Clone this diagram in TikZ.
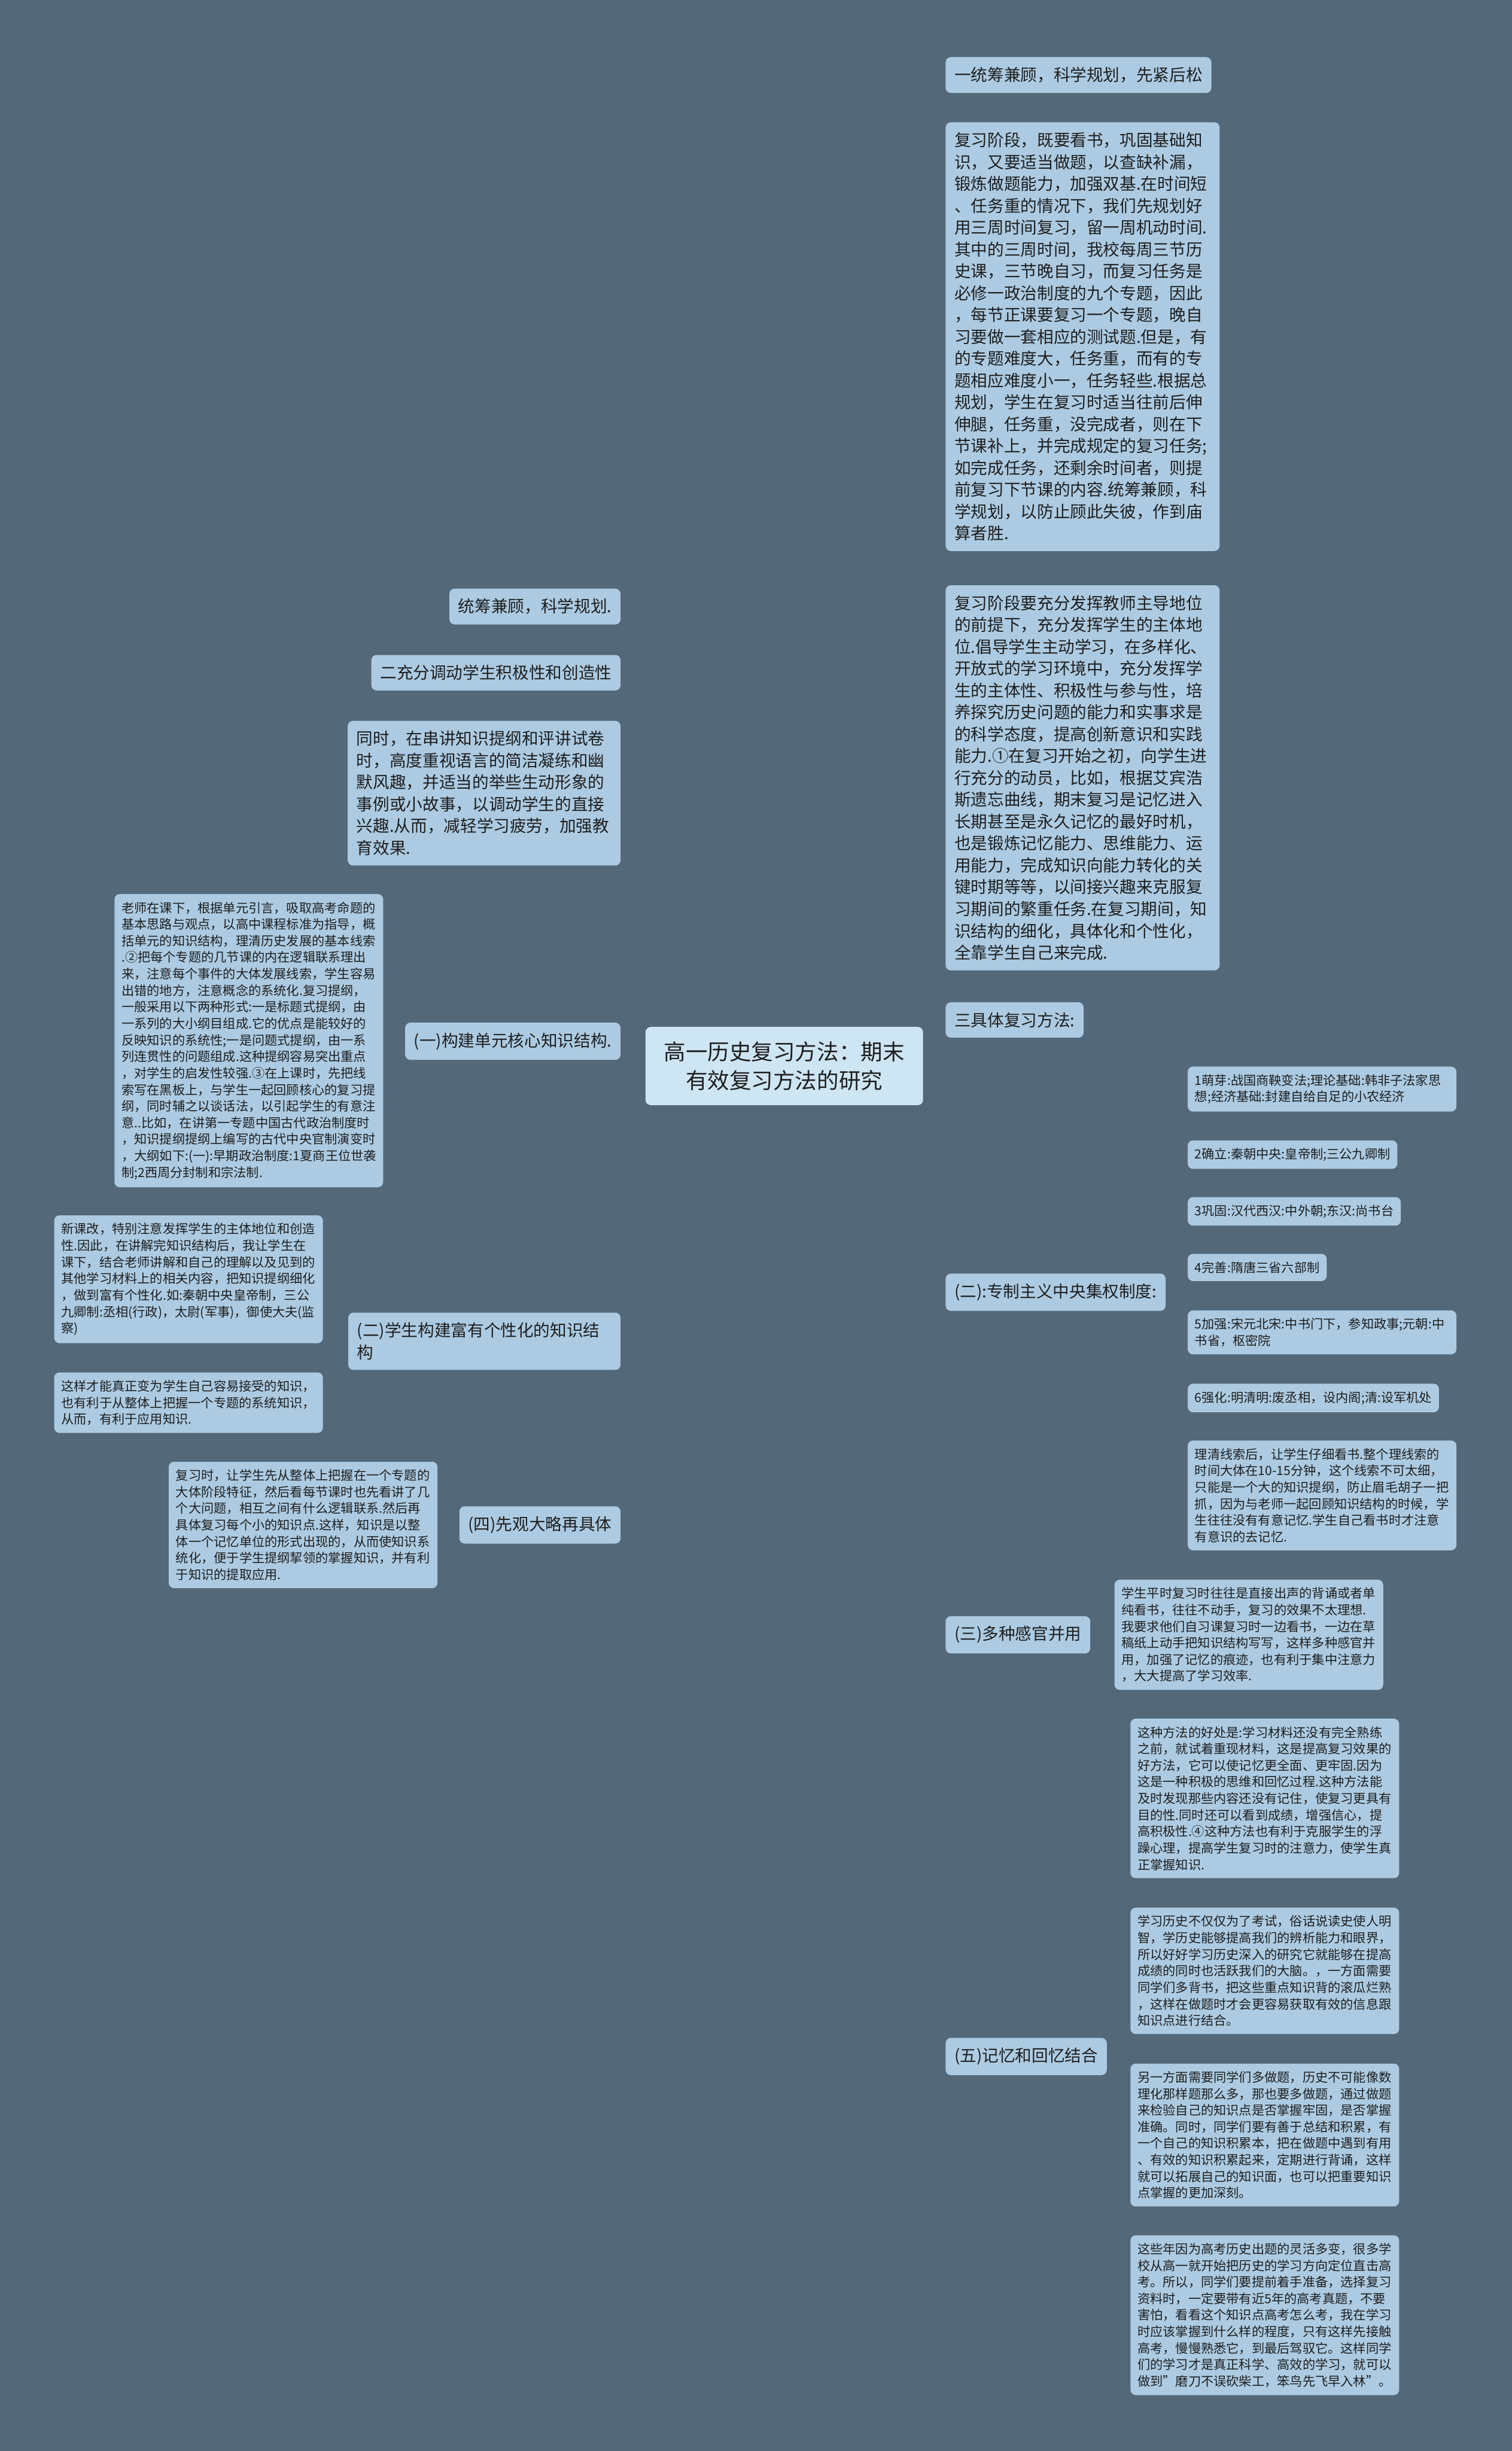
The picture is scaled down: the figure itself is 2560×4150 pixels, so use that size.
\documentclass[tikz,border=0pt]{standalone}
\usepackage{fontspec}
\setmainfont{Noto Sans CJK SC}
\usetikzlibrary{backgrounds}
\hyphenpenalty=10000
\exhyphenpenalty=10000
\definecolor{bgc}{RGB}{83,104,120}
\definecolor{nodec}{RGB}{172,203,226}
\definecolor{rootc}{RGB}{206,229,243}
\definecolor{linec}{RGB}{214,232,243}
\definecolor{txtc}{RGB}{30,30,30}
\tikzset{
  boxbase/.style={fill=nodec, rounded corners=9pt, text=txtc, align=left},
  box/.style={boxbase, inner xsep=15pt, inner ysep=17pt, font=\fontsize{28}{37}\selectfont},
  smallnw/.style={boxbase, inner xsep=12pt, inner ysep=13pt, font=\fontsize{21.5}{28}\selectfont},
  small/.style={smallnw, text width=431pt},
  rootbox/.style={fill=rootc, rounded corners=9pt, text=txtc, align=center, inner xsep=15pt, inner ysep=25pt, font=\fontsize{37}{48}\selectfont, text width=440pt},
  link/.style={draw=linec, line width=3.5pt, rounded corners=12pt}
}
\begin{document}
\begin{tikzpicture}[x=1pt,y=-1pt]
\useasboundingbox (0,0) rectangle (2560,4150);
\fill[bgc] (0,0) rectangle (2560,4150);

% root
\node[rootbox] (root) at (1328,1805) {高一历史复习方法：期末\\有效复习方法的研究};

% right side
\node[box, anchor=west] (r1) at (1601,127) {一统筹兼顾，科学规划，先紧后松};
\node[box, anchor=west, text width=434pt] (r2) at (1601,570) {复习阶段，既要看书，巩固基础知\\识，又要适当做题，以查缺补漏，\\锻炼做题能力，加强双基.在时间短\\、任务重的情况下，我们先规划好\\用三周时间复习，留一周机动时间.\\其中的三周时间，我校每周三节历\\史课，三节晚自习，而复习任务是\\必修一政治制度的九个专题，因此\\，每节正课要复习一个专题，晚自\\习要做一套相应的测试题.但是，有\\的专题难度大，任务重，而有的专\\题相应难度小一，任务轻些.根据总\\规划，学生在复习时适当往前后伸\\伸腿，任务重，没完成者，则在下\\节课补上，并完成规定的复习任务;\\如完成任务，还剩余时间者，则提\\前复习下节课的内容.统筹兼顾，科\\学规划，以防止顾此失彼，作到庙\\算者胜.};
\node[box, anchor=west, text width=434pt] (r3) at (1601,1317) {复习阶段要充分发挥教师主导地位\\的前提下，充分发挥学生的主体地\\位.倡导学生主动学习，在多样化、\\开放式的学习环境中，充分发挥学\\生的主体性、积极性与参与性，培\\养探究历史问题的能力和实事求是\\的科学态度，提高创新意识和实践\\能力.①在复习开始之初，向学生进\\行充分的动员，比如，根据艾宾浩\\斯遗忘曲线，期末复习是记忆进入\\长期甚至是永久记忆的最好时机，\\也是锻炼记忆能力、思维能力、运\\用能力，完成知识向能力转化的关\\键时期等等，以间接兴趣来克服复\\习期间的繁重任务.在复习期间，知\\识结构的细化，具体化和个性化，\\全靠学生自己来完成.};
\node[box, anchor=west] (r4) at (1601,1727) {三具体复习方法:};
\node[box, anchor=west] (r5) at (1601,2188) {(二):专制主义中央集权制度:};
\node[small, anchor=west] (c1) at (2011,1844) {1萌芽:战国商鞅变法;理论基础:韩非子法家思\\想;经济基础:封建自给自足的小农经济};
\node[smallnw, anchor=west] (c2) at (2011,1955) {2确立:秦朝中央:皇帝制;三公九卿制};
\node[smallnw, anchor=west] (c3) at (2011,2051) {3巩固:汉代西汉:中外朝;东汉:尚书台};
\node[smallnw, anchor=west] (c4) at (2011,2146) {4完善:隋唐三省六部制};
\node[small, anchor=west] (c5) at (2011,2256) {5加强:宋元北宋:中书门下，参知政事;元朝:中\\书省，枢密院};
\node[smallnw, anchor=west] (c6) at (2011,2367) {6强化:明清明:废丞相，设内阁;清:设军机处};
\node[small, anchor=west] (c7) at (2011,2532) {理清线索后，让学生仔细看书.整个理线索的\\时间大体在10-15分钟，这个线索不可太细，\\只能是一个大的知识提纲，防止眉毛胡子一把\\抓，因为与老师一起回顾知识结构的时候，学\\生往往没有有意记忆.学生自己看书时才注意\\有意识的去记忆.};
\node[box, anchor=west] (r6) at (1601,2768) {(三)多种感官并用};
\node[small, anchor=west] (r6c) at (1887,2768) {学生平时复习时往往是直接出声的背诵或者单\\纯看书，往往不动手，复习的效果不太理想.\\我要求他们自习课复习时一边看书，一边在草\\稿纸上动手把知识结构写写，这样多种感官并\\用，加强了记忆的痕迹，也有利于集中注意力\\，大大提高了学习效率.};
\node[box, anchor=west] (r7) at (1601,3482) {(五)记忆和回忆结合};
\node[small, anchor=west] (r7a) at (1914,3045) {这种方法的好处是:学习材料还没有完全熟练\\之前，就试着重现材料，这是提高复习效果的\\好方法，它可以使记忆更全面、更牢固.因为\\这是一种积极的思维和回忆过程.这种方法能\\及时发现那些内容还没有记住，使复习更具有\\目的性.同时还可以看到成绩，增强信心，提\\高积极性.④这种方法也有利于克服学生的浮\\躁心理，提高学生复习时的注意力，使学生真\\正掌握知识.};
\node[small, anchor=west] (r7b) at (1914,3337) {学习历史不仅仅为了考试，俗话说读史使人明\\智，学历史能够提高我们的辨析能力和眼界，\\所以好好学习历史深入的研究它就能够在提高\\成绩的同时也活跃我们的大脑。，一方面需要\\同学们多背书，把这些重点知识背的滚瓜烂熟\\，这样在做题时才会更容易获取有效的信息跟\\知识点进行结合。};
\node[small, anchor=west] (r7c) at (1914,3615) {另一方面需要同学们多做题，历史不可能像数\\理化那样题那么多，那也要多做题，通过做题\\来检验自己的知识点是否掌握牢固，是否掌握\\准确。同时，同学们要有善于总结和积累，有\\一个自己的知识积累本，把在做题中遇到有用\\、有效的知识积累起来，定期进行背诵，这样\\就可以拓展自己的知识面，也可以把重要知识\\点掌握的更加深刻。};
\node[small, anchor=west] (r7d) at (1914,3920) {这些年因为高考历史出题的灵活多变，很多学\\校从高一就开始把历史的学习方向定位直击高\\考。所以，同学们要提前着手准备，选择复习\\资料时，一定要带有近5年的高考真题，不要\\害怕，看看这个知识点高考怎么考，我在学习\\时应该掌握到什么样的程度，只有这样先接触\\高考，慢慢熟悉它，到最后驾驭它。这样同学\\们的学习才是真正科学、高效的学习，就可以\\做到"磨刀不误砍柴工，笨鸟先飞早入林"。};

% left side
\node[box, anchor=east] (l1) at (1051,1027) {统筹兼顾，科学规划.};
\node[box, anchor=east] (l2) at (1051,1139) {二充分调动学生积极性和创造性};
\node[box, anchor=east, text width=432pt] (l3) at (1051,1343) {同时，在串讲知识提纲和评讲试卷\\时，高度重视语言的简洁凝练和幽\\默风趣，并适当的举些生动形象的\\事例或小故事，以调动学生的直接\\兴趣.从而，减轻学习疲劳，加强教\\育效果.};
\node[box, anchor=east] (l4) at (1051,1763) {(一)构建单元核心知识结构.};
\node[small, anchor=east] (l4c) at (649,1762) {老师在课下，根据单元引言，吸取高考命题的\\基本思路与观点，以高中课程标准为指导，概\\括单元的知识结构，理清历史发展的基本线索\\.②把每个专题的几节课的内在逻辑联系理出\\来，注意每个事件的大体发展线索，学生容易\\出错的地方，注意概念的系统化.复习提纲，\\一般采用以下两种形式:一是标题式提纲，由\\一系列的大小纲目组成.它的优点是能较好的\\反映知识的系统性;一是问题式提纲，由一系\\列连贯性的问题组成.这种提纲容易突出重点\\，对学生的启发性较强.③在上课时，先把线\\索写在黑板上，与学生一起回顾核心的复习提\\纲，同时辅之以谈话法，以引起学生的有意注\\意..比如，在讲第一专题中国古代政治制度时\\，知识提纲提纲上编写的古代中央官制演变时\\，大纲如下:(一):早期政治制度:1夏商王位世袭\\制;2西周分封制和宗法制.};
\node[box, anchor=east, text width=431pt] (l5) at (1051,2271) {(二)学生构建富有个性化的知识结\\构};
\node[small, anchor=east] (l5a) at (547,2166) {新课改，特别注意发挥学生的主体地位和创造\\性.因此，在讲解完知识结构后，我让学生在\\课下，结合老师讲解和自己的理解以及见到的\\其他学习材料上的相关内容，把知识提纲细化\\，做到富有个性化.如:秦朝中央皇帝制，三公\\九卿制:丞相(行政)，太尉(军事)，御使大夫(监\\察)};
\node[small, anchor=east] (l5b) at (547,2375) {这样才能真正变为学生自己容易接受的知识，\\也有利于从整体上把握一个专题的系统知识，\\从而，有利于应用知识.};
\node[box, anchor=east] (l6) at (1051,2582) {(四)先观大略再具体};
\node[small, anchor=east] (l6c) at (741,2582) {复习时，让学生先从整体上把握在一个专题的\\大体阶段特征，然后看每节课时也先看讲了几\\个大问题，相互之间有什么逻辑联系.然后再\\具体复习每个小的知识点.这样，知识是以整\\体一个记忆单位的形式出现的，从而使知识系\\统化，便于学生提纲挈领的掌握知识，并有利\\于知识的提取应用.};

\coordinate (tr5) at (1993,0);
\coordinate (tr7) at (1895,0);
\coordinate (tl5) at (567,0);

\begin{pgfonlayer}{background}
\foreach \n in {r1,r2,r3,r4,r5,r6,r7}
  \draw[link] (root.east) -- ++(22,0) |- (\n.west);
\foreach \n in {l1,l2,l3,l4,l5,l6}
  \draw[link] (root.west) -- ++(-21,0) |- (\n.east);
\foreach \n in {c1,c2,c3,c4,c5,c6,c7}
  \draw[link] (r5.east) -- (r5.east -| tr5) |- (\n.west);
\foreach \n in {r7a,r7b,r7c,r7d}
  \draw[link] (r7.east) -- (r7.east -| tr7) |- (\n.west);
\foreach \n in {l5a,l5b}
  \draw[link] (l5.west) -- (l5.west -| tl5) |- (\n.east);
\draw[link] (r6.east) -- (r6.east -| r6c.west);
\draw[link] (l4.west) -- (l4.west -| l4c.east);
\draw[link] (l6.west) -- (l6.west -| l6c.east);
\end{pgfonlayer}
\end{tikzpicture}
\end{document}
